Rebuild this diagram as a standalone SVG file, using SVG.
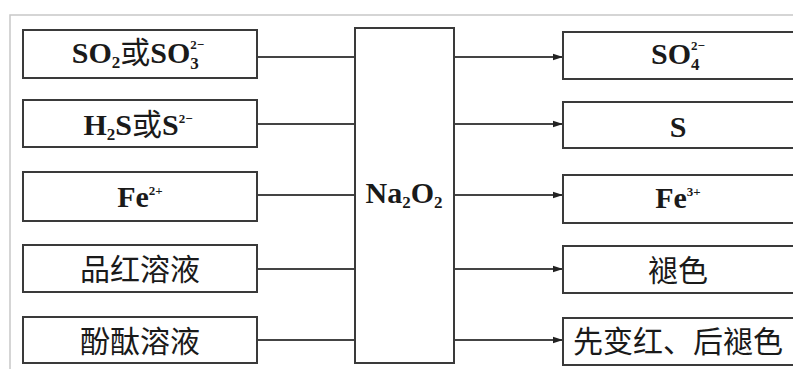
<svg xmlns="http://www.w3.org/2000/svg" width="793" height="369" viewBox="0 0 793 369">
  <style>
    .frame { fill: none; stroke: #c8c8c8; stroke-width: 1.5; }
    .box { fill: #ffffff; stroke: #3a3a3a; stroke-width: 2; }
    .wire { fill: none; stroke: #444444; stroke-width: 2; }
    .lat { font-family: "Liberation Serif", "Noto Sans CJK SC", serif; font-size: 30px; font-weight: bold; fill: #1a1a1a; text-anchor: middle; }
    .cjk { font-family: "Noto Sans CJK SC", "Liberation Serif", sans-serif; font-size: 30px; fill: #1a1a1a; text-anchor: middle; }
    .han { font-family: "Noto Sans CJK SC", sans-serif; font-weight: normal; }
    .sm { font-size: 17px; }
    .xs { font-size: 13px; }
  </style>
  <defs>
    <marker id="arrow" markerWidth="10" markerHeight="8" refX="9" refY="4" orient="auto" markerUnits="userSpaceOnUse">
      <path d="M0,0.8 L10,4 L0,7.2 Z" fill="#222222"/>
    </marker>
  </defs>

  <rect width="793" height="369" fill="#ffffff"/>
  <!-- outer frame edges -->
  <path class="frame" d="M10,369 V15 H793"/>

  <!-- connectors -->
  <g id="connectors">
    <path class="wire" d="M257,57 H355"/>
    <path class="wire" d="M257,124 H355"/>
    <path class="wire" d="M257,195 H355"/>
    <path class="wire" d="M257,269 H355"/>
    <path class="wire" d="M257,340 H355"/>
    <path class="wire" d="M454,57 H562" marker-end="url(#arrow)"/>
    <path class="wire" d="M454,124 H562" marker-end="url(#arrow)"/>
    <path class="wire" d="M454,195 H562" marker-end="url(#arrow)"/>
    <path class="wire" d="M454,269 H562" marker-end="url(#arrow)"/>
    <path class="wire" d="M454,340 H562" marker-end="url(#arrow)"/>
  </g>

  <!-- reactants -->
  <g id="in-so2">
    <rect class="box" x="23" y="30" width="234" height="48"/>
    <text class="lat" x="138" y="63">SO<tspan class="sm" dy="5">2</tspan><tspan class="han" dy="-5">或</tspan>SO<tspan class="sm" dy="6">3</tspan><tspan class="xs" dx="-8.5" dy="-20">2−</tspan></text>
  </g>
  <g id="in-h2s">
    <rect class="box" x="23" y="100" width="234" height="47"/>
    <text class="lat" x="138" y="135">H<tspan class="sm" dy="5">2</tspan><tspan dy="-5">S</tspan><tspan class="han">或</tspan>S<tspan class="xs" dy="-12">2−</tspan></text>
  </g>
  <g id="in-fe2">
    <rect class="box" x="23" y="172" width="234" height="49"/>
    <text class="lat" x="140" y="207">Fe<tspan class="xs" dy="-12">2+</tspan></text>
  </g>
  <g id="in-pinhong">
    <rect class="box" x="23" y="245" width="234" height="47"/>
    <text class="cjk" x="140" y="280">品红溶液</text>
  </g>
  <g id="in-fentai">
    <rect class="box" x="23" y="317" width="234" height="46"/>
    <text class="cjk" x="140" y="352">酚酞溶液</text>
  </g>

  <!-- oxidant -->
  <g id="na2o2">
    <rect class="box" x="355" y="28" width="99" height="335"/>
    <text class="lat" x="404" y="203">Na<tspan class="sm" dy="5">2</tspan><tspan dy="-5">O</tspan><tspan class="sm" dy="5">2</tspan></text>
  </g>

  <!-- products -->
  <g id="out-so4">
    <rect class="box" x="563" y="32" width="240" height="47"/>
    <text class="lat" x="678" y="64">SO<tspan class="sm" dy="6">4</tspan><tspan class="xs" dx="-8.5" dy="-20">2−</tspan></text>
  </g>
  <g id="out-s">
    <rect class="box" x="563" y="102" width="240" height="46"/>
    <text class="lat" x="678" y="137">S</text>
  </g>
  <g id="out-fe3">
    <rect class="box" x="563" y="175" width="240" height="48"/>
    <text class="lat" x="678" y="208">Fe<tspan class="xs" dy="-12">3+</tspan></text>
  </g>
  <g id="out-fade">
    <rect class="box" x="563" y="246" width="240" height="47"/>
    <text class="cjk" x="678" y="281">褪色</text>
  </g>
  <g id="out-red-fade">
    <rect class="box" x="563" y="318" width="240" height="47"/>
    <text class="cjk" x="678" y="352">先变红、后褪色</text>
  </g>
</svg>
